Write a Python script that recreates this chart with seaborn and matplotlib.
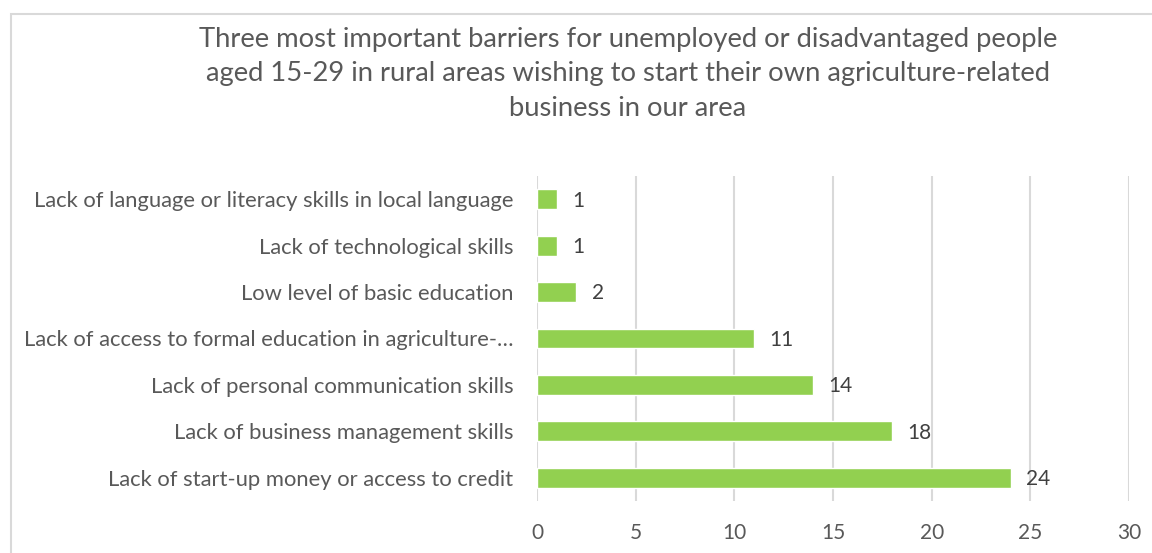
import matplotlib
matplotlib.use("Agg")
import matplotlib.pyplot as plt
import seaborn as sns
import pandas as pd
from matplotlib.patches import Rectangle

barriers = [
    "Lack of language or literacy skills in local language",
    "Lack of technological skills",
    "Low level of basic education",
    "Lack of access to formal education in agriculture-…",
    "Lack of personal communication skills",
    "Lack of business management skills",
    "Lack of start-up money or access to credit",
]
counts = [1, 1, 2, 11, 14, 18, 24]
x_ticks = [0, 5, 10, 15, 20, 25, 30]

title = ("Three most important barriers for unemployed or disadvantaged people\n"
         "aged 15-29 in rural areas wishing to start their own agriculture-related\n"
         "business in our area")

sns.set_theme(style="white")
plt.rcParams["font.family"] = ["Lato", "DejaVu Sans"]

text_color = "#595959"
grid_color = "#d9d9d9"
bar_color = "#92d050"

W, H = 1152, 553
fig = plt.figure(figsize=(W / 100, H / 100), dpi=100)

# chart frame (runs past the right and bottom edges of the canvas)
fig.patches.append(Rectangle((11 / W, -0.2), 1.2, 1.2 - 14 / H, transform=fig.transFigure,
                             fill=False, edgecolor=grid_color, linewidth=1.5, zorder=0))

ax = fig.add_axes([537 / W, 1 - 501 / H, (1129 - 537) / W, (501 - 176) / H])

df = pd.DataFrame({"barrier": barriers, "count": counts})
sns.barplot(data=df, x="count", y="barrier", orient="h", color=bar_color,
            saturation=1, width=0.43, ax=ax, zorder=3)

ax.set_xlim(0, 30)
ax.set_xticks(x_ticks)
ax.set_xlabel("")
ax.set_ylabel("")
ax.xaxis.grid(True, color=grid_color, linewidth=1.5, zorder=0)
ax.yaxis.grid(False)
for s in ax.spines.values():
    s.set_visible(False)
ax.tick_params(axis="both", length=0, colors=text_color)
ax.tick_params(axis="x", pad=16, labelsize=15)
ax.tick_params(axis="y", pad=17, labelsize=15.8)
for lbl in ax.get_xticklabels() + ax.get_yticklabels():
    lbl.set_color(text_color)

for i, v in enumerate(counts):
    ax.annotate(str(v), xy=(v, i), xytext=(11, -1), textcoords="offset points",
                ha="left", va="center", fontsize=15, color="#404040")

fig.text(628 / W, 1 - 74 / H, title, ha="center", va="center", fontsize=19.7,
         color=text_color, linespacing=1.5)

fig.savefig("out.png", dpi=100)
